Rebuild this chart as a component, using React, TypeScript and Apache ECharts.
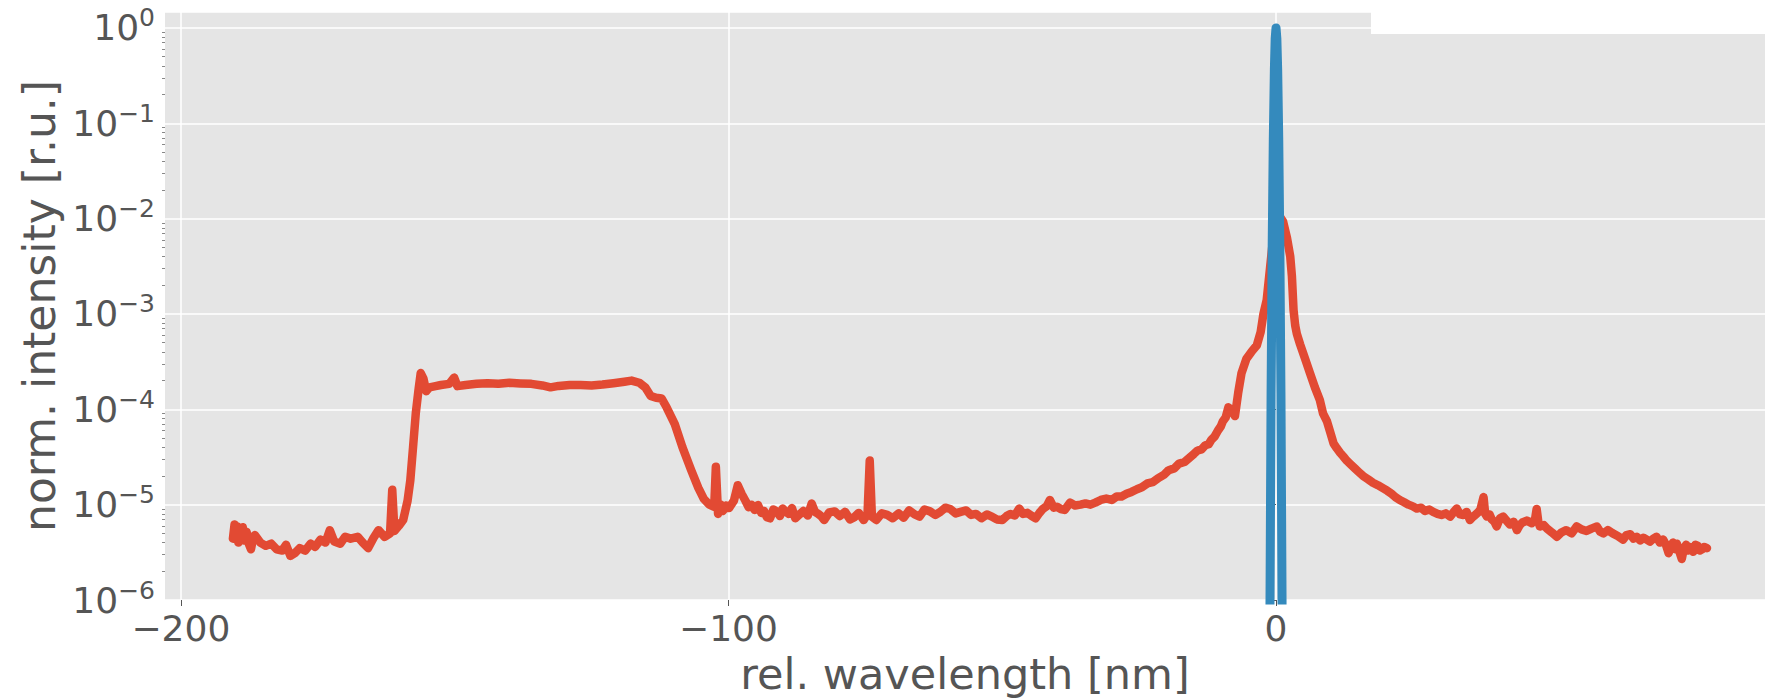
import React, { useEffect, useRef } from "react";
import * as echarts from "echarts";

// ---- data: [rel. wavelength (nm), normalised intensity] ----
const redPoints: [number, number][] = [
  [-190.5, 4.4e-6], [-190.2, 6.2e-6], [-190.0, 4.6e-6], [-189.7, 5.9e-6], [-189.5, 4.0e-6],
  [-189.2, 5.6e-6], [-189.0, 4.8e-6], [-188.7, 5.8e-6], [-188.5, 4.2e-6], [-188.0, 5.2e-6],
  [-187.6, 3.9e-6], [-187.2, 3.4e-6], [-186.8, 4.5e-6], [-186.5, 4.8e-6], [-185.5, 4.0e-6],
  [-184.5, 3.7e-6], [-183.5, 3.9e-6], [-182.5, 3.4e-6], [-181.5, 3.3e-6], [-180.8, 3.8e-6],
  [-180.0, 2.9e-6], [-179.2, 3.1e-6], [-178.3, 3.5e-6], [-177.3, 3.3e-6], [-176.3, 3.9e-6],
  [-175.5, 3.6e-6], [-174.5, 4.3e-6], [-173.6, 4.0e-6], [-172.8, 5.4e-6], [-172.0, 4.1e-6],
  [-170.9, 3.9e-6], [-170.0, 4.6e-6], [-169.0, 4.4e-6], [-167.7, 4.6e-6], [-166.8, 4.0e-6],
  [-165.8, 3.5e-6], [-164.8, 4.5e-6], [-163.9, 5.4e-6], [-162.8, 4.6e-6], [-161.8, 5.0e-6],
  [-161.4, 1.43e-5], [-161.0, 5.3e-6], [-160.2, 6.0e-6], [-159.4, 6.9e-6], [-158.6, 1.1e-5],
  [-158.1, 1.8e-5], [-157.6, 4.0e-5], [-157.1, 9.1e-5], [-156.6, 1.6e-4], [-156.2, 2.4e-4],
  [-155.7, 2.1e-4], [-155.2, 1.55e-4], [-154.6, 1.7e-4], [-153.5, 1.75e-4], [-152.5, 1.8e-4],
  [-151.0, 1.85e-4], [-150.1, 2.15e-4], [-149.5, 1.75e-4], [-148, 1.8e-4], [-146, 1.85e-4],
  [-144, 1.88e-4], [-142, 1.85e-4], [-140, 1.9e-4], [-138, 1.87e-4], [-136, 1.85e-4],
  [-134, 1.78e-4], [-132.5, 1.7e-4], [-131, 1.76e-4], [-129, 1.8e-4], [-127, 1.8e-4],
  [-125, 1.78e-4], [-123, 1.82e-4], [-121, 1.88e-4], [-119, 1.95e-4], [-117.7, 2.0e-4],
  [-116.3, 1.9e-4], [-115.2, 1.7e-4], [-114.2, 1.38e-4], [-113.2, 1.32e-4], [-112.2, 1.3e-4],
  [-111.3, 1.05e-4], [-109.8, 7.0e-5], [-108.4, 4.0e-5], [-106.8, 2.3e-5], [-105.5, 1.5e-5],
  [-104.5, 1.15e-5], [-103.5, 1.0e-5], [-102.6, 9.5e-6], [-102.3, 2.5e-5], [-101.9, 8.0e-6],
  [-101.4, 1.0e-5], [-101.0, 8.6e-6], [-100.4, 9.8e-6], [-99.9, 9.2e-6], [-99.0, 1.1e-5],
  [-98.3, 1.6e-5], [-97.6, 1.3e-5], [-96.9, 1.1e-5], [-96.3, 9.4e-6], [-95.8, 1.0e-5],
  [-95.2, 8.8e-6], [-94.6, 9.9e-6], [-94.0, 8.2e-6], [-93.5, 8.6e-6], [-93.0, 7.4e-6],
  [-92.4, 7.2e-6], [-91.8, 8.9e-6], [-91.2, 8.5e-6], [-90.6, 7.6e-6], [-90.1, 9.1e-6],
  [-89.5, 8.4e-6], [-89.0, 8.0e-6], [-88.4, 9.2e-6], [-87.8, 7.2e-6], [-87.0, 7.9e-6],
  [-86.3, 8.6e-6], [-85.5, 7.7e-6], [-84.8, 1.03e-5], [-84.2, 8.4e-6], [-83.6, 8.0e-6],
  [-83.0, 7.5e-6], [-82.5, 6.9e-6], [-81.6, 8.3e-6], [-80.6, 8.5e-6], [-79.7, 7.6e-6],
  [-78.7, 8.4e-6], [-77.8, 7.0e-6], [-77.0, 7.4e-6], [-76.2, 8.2e-6], [-75.3, 6.9e-6],
  [-74.6, 8.0e-6], [-74.2, 2.9e-5], [-73.8, 7.5e-6], [-73.0, 6.9e-6], [-72.0, 8.1e-6],
  [-71.0, 7.8e-6], [-70.0, 7.2e-6], [-68.9, 8.1e-6], [-68.0, 7.3e-6], [-67.0, 8.7e-6],
  [-66.0, 7.9e-6], [-65.1, 7.5e-6], [-64.2, 8.9e-6], [-63.2, 8.5e-6], [-62.2, 7.8e-6],
  [-61.3, 8.4e-6], [-60.4, 9.3e-6], [-59.5, 9.0e-6], [-58.5, 8.1e-6], [-57.6, 8.4e-6],
  [-56.6, 8.7e-6], [-55.7, 7.8e-6], [-54.8, 8.0e-6], [-53.8, 7.2e-6], [-52.8, 7.9e-6],
  [-51.9, 7.5e-6], [-51.0, 7.0e-6], [-50.0, 6.9e-6], [-49.2, 7.6e-6], [-48.5, 8.0e-6],
  [-47.7, 7.7e-6], [-46.9, 9.1e-6], [-46.2, 8.0e-6], [-45.4, 8.2e-6], [-44.6, 7.6e-6],
  [-43.9, 7.2e-6], [-43.2, 8.2e-6], [-42.6, 9.0e-6], [-41.9, 9.6e-6], [-41.3, 1.12e-5],
  [-40.6, 9.3e-6], [-40.0, 9.5e-6], [-39.3, 9.0e-6], [-38.6, 8.8e-6], [-37.6, 1.05e-5],
  [-36.7, 9.8e-6], [-35.7, 1.0e-5], [-34.8, 1.03e-5], [-33.9, 1.0e-5], [-33.0, 1.05e-5],
  [-32.0, 1.12e-5], [-31.0, 1.16e-5], [-30.0, 1.12e-5], [-29.1, 1.22e-5], [-28.2, 1.22e-5],
  [-27.3, 1.3e-5], [-26.4, 1.36e-5], [-25.4, 1.45e-5], [-24.5, 1.52e-5], [-23.5, 1.67e-5],
  [-22.5, 1.72e-5], [-21.5, 1.9e-5], [-20.5, 2.05e-5], [-19.6, 2.3e-5], [-18.6, 2.4e-5],
  [-17.7, 2.7e-5], [-16.7, 2.8e-5], [-15.8, 3.1e-5], [-15.0, 3.4e-5], [-14.3, 3.7e-5],
  [-13.6, 3.8e-5], [-12.9, 4.2e-5], [-12.3, 4.3e-5], [-11.8, 4.8e-5], [-11.2, 5.2e-5],
  [-10.6, 6.0e-5], [-10.1, 6.6e-5], [-9.7, 7.5e-5], [-9.2, 8.2e-5], [-8.7, 1.05e-4],
  [-8.3, 1.0e-4], [-8.0, 9.5e-5], [-7.5, 8.5e-5], [-6.9, 1.5e-4], [-6.3, 2.4e-4],
  [-5.4, 3.4e-4], [-4.5, 4.0e-4], [-3.5, 4.7e-4], [-2.8, 6.5e-4], [-2.3, 1.0e-3],
  [-1.7, 1.4e-3], [-1.1, 3.0e-3], [-0.5, 6.5e-3], [0.1, 9.0e-3], [0.7, 1.05e-2],
  [1.3, 9.3e-3], [2.0, 6.3e-3], [2.6, 4.0e-3], [2.9, 2.5e-3], [3.2, 1.1e-3],
  [3.5, 7.6e-4], [3.8, 6.2e-4], [4.4, 4.8e-4], [5.3, 3.4e-4], [6.2, 2.4e-4],
  [7.1, 1.7e-4], [8.0, 1.25e-4], [8.6, 9.0e-5], [9.3, 7.5e-5], [10.0, 5.5e-5],
  [10.5, 4.4e-5], [11.1, 3.9e-5], [11.7, 3.5e-5], [12.3, 3.2e-5], [12.9, 2.9e-5],
  [13.6, 2.65e-5], [14.4, 2.4e-5], [15.1, 2.2e-5], [15.9, 2.0e-5], [16.8, 1.85e-5],
  [17.7, 1.7e-5], [18.6, 1.6e-5], [19.6, 1.48e-5], [20.3, 1.4e-5], [21.1, 1.3e-5],
  [21.8, 1.2e-5], [22.6, 1.12e-5], [23.4, 1.06e-5], [24.2, 1.0e-5], [25.0, 9.6e-6],
  [25.7, 9.1e-6], [26.5, 9.3e-6], [27.2, 8.6e-6], [28.0, 8.9e-6], [28.7, 8.4e-6],
  [29.5, 8.0e-6], [30.2, 7.8e-6], [31.0, 8.1e-6], [31.8, 7.5e-6], [32.4, 8.3e-6],
  [33.0, 9.1e-6], [33.6, 7.9e-6], [34.2, 7.8e-6], [34.8, 8.4e-6], [35.4, 6.9e-6],
  [35.9, 7.4e-6], [36.4, 7.8e-6], [36.9, 8.3e-6], [37.3, 8.8e-6], [37.9, 1.2e-5],
  [38.2, 8.0e-6], [38.5, 7.5e-6], [39.0, 7.9e-6], [39.4, 7.0e-6], [39.9, 6.6e-6],
  [40.3, 5.9e-6], [40.9, 7.2e-6], [41.5, 7.5e-6], [42.1, 6.8e-6], [42.7, 6.2e-6],
  [43.4, 6.6e-6], [44.0, 5.4e-6], [44.5, 6.1e-6], [45.0, 6.5e-6], [45.8, 6.8e-6],
  [46.7, 6.4e-6], [47.3, 7.0e-6], [47.6, 9.0e-6], [47.9, 6.6e-6], [48.2, 5.9e-6],
  [48.9, 6.1e-6], [49.5, 5.6e-6], [50.4, 5.1e-6], [51.3, 4.6e-6], [52.1, 5.1e-6],
  [53.0, 5.4e-6], [54.0, 5.0e-6], [54.9, 5.9e-6], [55.8, 5.5e-6], [56.7, 5.3e-6],
  [57.6, 5.6e-6], [58.6, 5.9e-6], [59.2, 5.2e-6], [59.8, 5.0e-6], [60.6, 5.4e-6],
  [61.5, 5.0e-6], [62.4, 4.7e-6], [63.4, 4.3e-6], [64.0, 4.8e-6], [64.7, 4.9e-6],
  [65.3, 4.4e-6], [65.9, 4.6e-6], [66.5, 4.2e-6], [67.1, 4.5e-6], [67.7, 4.3e-6],
  [68.3, 4.1e-6], [68.9, 4.4e-6], [69.5, 4.6e-6], [70.1, 4.0e-6], [70.7, 4.3e-6],
  [71.2, 3.8e-6], [71.7, 3.1e-6], [72.1, 3.7e-6], [72.5, 4.0e-6], [72.9, 3.4e-6],
  [73.2, 3.9e-6], [73.6, 3.3e-6], [74.1, 2.7e-6], [74.5, 3.5e-6], [74.9, 3.8e-6],
  [75.2, 3.3e-6], [75.6, 3.6e-6], [76.2, 3.2e-6], [76.6, 3.8e-6], [77.0, 3.7e-6],
  [77.4, 3.3e-6], [77.8, 3.4e-6], [78.2, 3.6e-6], [78.7, 3.5e-6],
];

const bluePoints: [number, number][] = [
  [-1.3, 1.0e-8], [-1.1, 1.0e-6], [-0.9, 1.5e-4], [-0.7, 5.0e-3], [-0.5, 0.066],
  [-0.3, 0.37], [-0.15, 0.78], [0, 1.0], [0.15, 0.78], [0.3, 0.37],
  [0.5, 0.066], [0.7, 5.0e-3], [0.9, 1.5e-4], [1.1, 1.0e-6], [1.3, 1.0e-8],
];

const xTicks: number[] = [-200, -100, 0];
const yMin = 1e-6;
const yMax = 1.47;
const xMin = -202.9;
const xMax = 89.3;

const minorTicks: number[] = [];
for (let n = -6; n <= 0; n++) {
  for (let k = 2; k <= 9; k++) {
    const v = k * Math.pow(10, n);
    if (v < yMax) minorTicks.push(v);
  }
}

const FONT = "DejaVu Sans";
const TXT = "#555555";

const supMap = (n: number) => (n < 0 ? "\u2212" + -n : String(n));

export default function App() {
  const ref = useRef<HTMLDivElement>(null);
  useEffect(() => {
    if (!ref.current) return;
    const chart = echarts.init(ref.current, undefined, { renderer: "svg" });
    chart.setOption({
      animation: false,
      textStyle: { fontFamily: FONT },
      grid: {
        left: 165,
        right: 0,
        top: 12,
        bottom: 100,
        show: true,
        backgroundColor: "#E5E5E5",
        borderWidth: 0,
      },
      xAxis: {
        type: "value",
        min: xMin,
        max: xMax,
        name: "rel. wavelength [nm]",
        nameLocation: "middle",
        nameGap: 52,
        nameTextStyle: { fontSize: 43, color: TXT, fontFamily: FONT },
        axisLine: { show: false },
        axisTick: { show: true, length: 6, customValues: xTicks, lineStyle: { color: TXT, width: 1 } },
        axisLabel: {
          customValues: xTicks,
          fontSize: 36,
          color: TXT,
          fontFamily: FONT,
          margin: 10,
          formatter: (v: number) => (v < 0 ? "\u2212" + -v : String(v)),
        },
        splitLine: { show: true, lineStyle: { color: "#ffffff", width: 1.5 } },
      },
      yAxis: [
        {
          type: "log",
          min: yMin,
          max: yMax,
          splitNumber: 6,
          name: "norm. intensity [r.u.]",
          nameLocation: "middle",
          nameGap: 100,
          nameTextStyle: { fontSize: 44, color: TXT, fontFamily: FONT },
          axisLine: { show: false },
          axisTick: { show: true, length: 4, lineStyle: { color: TXT, width: 1 } },
          axisLabel: {
            showMaxLabel: false,
            margin: 10,
            formatter: (v: number) => {
              const n = Math.round(Math.log10(v));
              return "{b|10}{s|" + supMap(n) + "}";
            },
            rich: {
              b: { fontSize: 36, color: TXT, fontFamily: FONT },
              s: { fontSize: 25, color: TXT, fontFamily: FONT, padding: [0, 0, 20, 0] },
            },
          },
          splitLine: { show: true, lineStyle: { color: "#ffffff", width: 1.5 } },
        },
        {
          type: "log",
          min: yMin,
          max: yMax,
          position: "left",
          axisLine: { show: false },
          axisLabel: { show: false },
          splitLine: { show: false },
          axisTick: { show: true, length: 3, customValues: minorTicks, lineStyle: { color: "#888888", width: 1 } },
        },
      ],
      series: [
        {
          type: "line",
          data: redPoints,
          yAxisIndex: 0,
          showSymbol: false,
          symbol: "none",
          clip: true,
          lineStyle: { color: "#E24A33", width: 8.5, join: "round", cap: "round" },
        },
        {
          type: "line",
          data: bluePoints,
          yAxisIndex: 0,
          showSymbol: false,
          symbol: "none",
          clip: true,
          lineStyle: { color: "#348ABD", width: 9, join: "round", cap: "round" },
        },
      ],
      graphic: [
        {
          type: "rect",
          shape: { x: 1371, y: 0, width: 394, height: 34 },
          style: { fill: "#ffffff" },
          z: 100,
        },
      ],
    });
    return () => chart.dispose();
  }, []);
  return (
    <div
      ref={ref}
      style={{ position: "absolute", left: 0, top: 0, width: 1765, height: 700, background: "#fff" }}
    />
  );
}
